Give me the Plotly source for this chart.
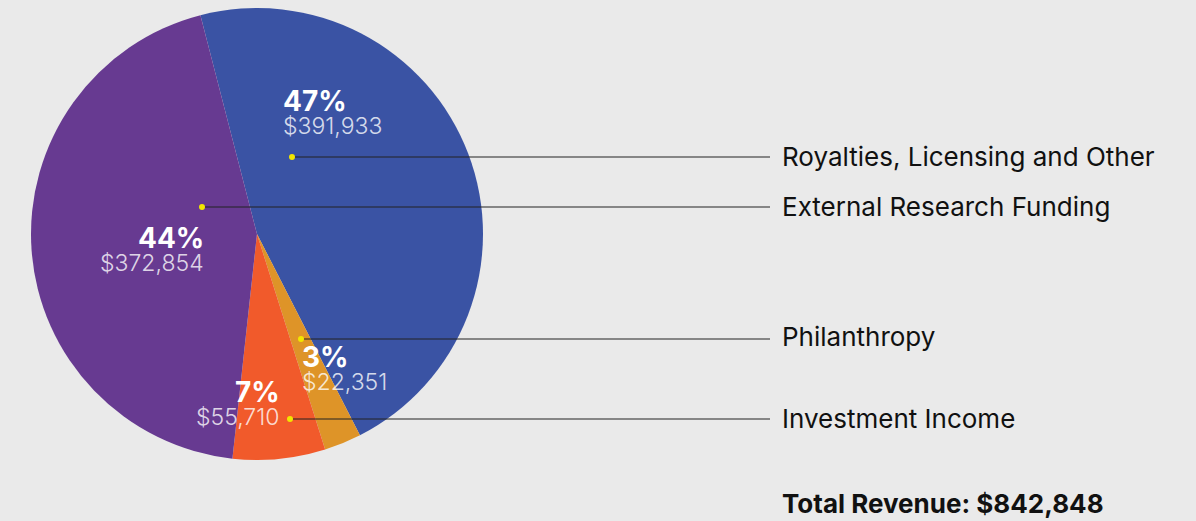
import plotly.graph_objects as go

W, H = 1196, 521

# slice data, clockwise from the top-left
labels = ["Royalties, Licensing and Other", "Philanthropy", "Investment Income", "External Research Funding"]
values = [391933, 22351, 55710, 372854]
colors = ["#3A53A4", "#DE9428", "#F15A2B", "#673A91"]

total = sum(values)

# where the text sits inside the pie (pixels) and the yellow leader dots
pct_pos = {
    "Royalties, Licensing and Other": (281, 101, "left"),
    "External Research Funding": (206, 238, "right"),
    "Philanthropy": (300, 357, "left"),
    "Investment Income": (282, 392, "right"),
}
dot_pos = {
    "Royalties, Licensing and Other": (292, 157),
    "External Research Funding": (202, 207),
    "Philanthropy": (301, 339),
    "Investment Income": (290, 419),
}
legend_y = {
    "Royalties, Licensing and Other": 157,
    "External Research Funding": 207,
    "Philanthropy": 336,
    "Investment Income": 418,
}


def px(x):
    return x / W


def py(y):
    return 1 - y / H


fig = go.Figure()
fig.add_trace(go.Pie(
    labels=labels,
    values=values,
    marker=dict(colors=colors, line=dict(width=0)),
    sort=False,
    direction="clockwise",
    rotation=-14.5,
    textinfo="none",
    showlegend=False,
    domain=dict(x=[px(31), px(483)], y=[py(460), py(8)]),
))

annotations = []
shapes = []
for lab, val in zip(labels, values):
    x, y, anchor = pct_pos[lab]
    annotations.append(dict(
        x=px(x), y=py(y), xref="paper", yref="paper", xanchor=anchor, yanchor="middle",
        text=f"{val / total * 100:.0f}%", showarrow=False,
        font=dict(family="Inter", size=28, color="white", weight=700),
    ))
    annotations.append(dict(
        x=px(x), y=py(y + 25), xref="paper", yref="paper", xanchor=anchor, yanchor="middle",
        text=f"${val:,}", showarrow=False,
        font=dict(family="Inter", size=23, color="rgba(255,255,255,0.8)", weight=300),
    ))
    dx, dy = dot_pos[lab]
    ly = legend_y[lab]
    shapes.append(dict(
        type="line", xref="paper", yref="paper",
        x0=px(dx), y0=py(dy), x1=px(770), y1=py(dy),
        line=dict(color="#222222", width=1),
    ))
    shapes.append(dict(
        type="circle", xref="paper", yref="paper",
        x0=px(dx - 3), y0=py(dy - 3), x1=px(dx + 3), y1=py(dy + 3),
        fillcolor="#F2E600", line=dict(width=0),
    ))
    annotations.append(dict(
        x=px(780), y=py(ly), xref="paper", yref="paper", xanchor="left", yanchor="middle",
        text=lab, showarrow=False,
        font=dict(family="Inter", size=26, color="#111111"),
    ))

annotations.append(dict(
    x=px(780), y=py(503), xref="paper", yref="paper", xanchor="left", yanchor="middle",
    text=f"<b>Total Revenue: ${total:,}</b>", showarrow=False,
    font=dict(family="Inter", size=26, color="#111111"),
))

fig.update_layout(
    width=W, height=H,
    margin=dict(l=0, r=0, t=0, b=0),
    paper_bgcolor="#EAEAEA",
    plot_bgcolor="#EAEAEA",
    annotations=annotations,
    shapes=shapes,
)

fig.write_html("out.html", config={"displayModeBar": False},
               post_script="document.body.style.margin='0';")
